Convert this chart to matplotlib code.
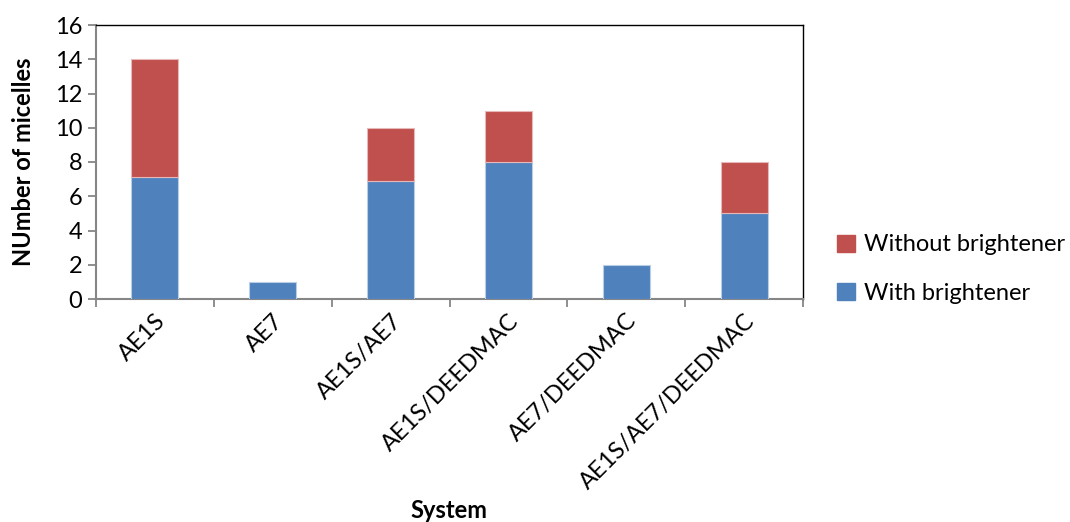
import matplotlib
matplotlib.use("Agg")
import matplotlib.pyplot as plt
import numpy as np
from matplotlib.patches import Patch

categories = ["AE1S", "AE7", "AE1S/AE7", "AE1S/DEEDMAC", "AE7/DEEDMAC", "AE1S/AE7/DEEDMAC"]
with_brightener = [7.1, 1, 6.9, 8, 2, 5]
without_brightener = [6.9, 0, 3.1, 3, 0, 3]
y_ticks = [0, 2, 4, 6, 8, 10, 12, 14, 16]

plt.rcParams['font.family'] = ['Lato', 'DejaVu Sans']

blue = "#4F81BD"
red = "#C0504D"

fig = plt.figure(figsize=(10.7, 5.22), dpi=100)
ax = fig.add_axes([96/1070, 1-299/522, (803-96)/1070, (299-25)/522])

x = np.arange(len(categories))
ax.bar(x, with_brightener, width=0.4, color=blue, edgecolor="#B9CDE5", linewidth=0.8, zorder=3)
red_lw = [0.8 if v > 0 else 0 for v in without_brightener]
ax.bar(x, without_brightener, width=0.4, bottom=with_brightener, color=red,
       edgecolor="#E6B9B8", linewidth=red_lw, zorder=3)

ax.set_xlim(-0.5, len(categories) - 0.5)
ax.set_ylim(0, 16)
ax.set_yticks(y_ticks)
ax.set_yticklabels([str(v) for v in y_ticks], fontsize=17)

ax.set_xticks(np.arange(len(categories) + 1) - 0.5)
ax.set_xticklabels([])
ax.set_xticks(x, minor=True)
ax.set_xticklabels(categories, minor=True, rotation=45, ha="right", rotation_mode="anchor", fontsize=17)
ax.tick_params(axis="x", which="minor", length=0, pad=8)
ax.tick_params(axis="x", which="major", length=6, width=1.3, color="#868686", direction="out")
ax.tick_params(axis="y", length=6, width=1.3, color="#868686", direction="out", pad=4)

for s in ["left", "bottom"]:
    ax.spines[s].set_color("#868686")
    ax.spines[s].set_linewidth(1.5)
for s in ["top", "right"]:
    ax.spines[s].set_color("#000000")
    ax.spines[s].set_linewidth(1.0)

ax.set_ylabel("NUmber of micelles", fontsize=17, fontweight="bold", labelpad=14)
fig.text(449/1070, 1-510/522, "System", fontsize=17, fontweight="bold", ha="center", va="center")

handles = [Patch(color=red), Patch(color=blue)]
fig.legend(handles, ["Without brightener", "With brightener"], loc="center left",
           bbox_to_anchor=(816/1070, 1-269/522), frameon=False, fontsize=17,
           handlelength=0.75, handleheight=0.75, labelspacing=1.15, handletextpad=0.4)

fig.savefig("out.png", dpi=100, facecolor="white")
